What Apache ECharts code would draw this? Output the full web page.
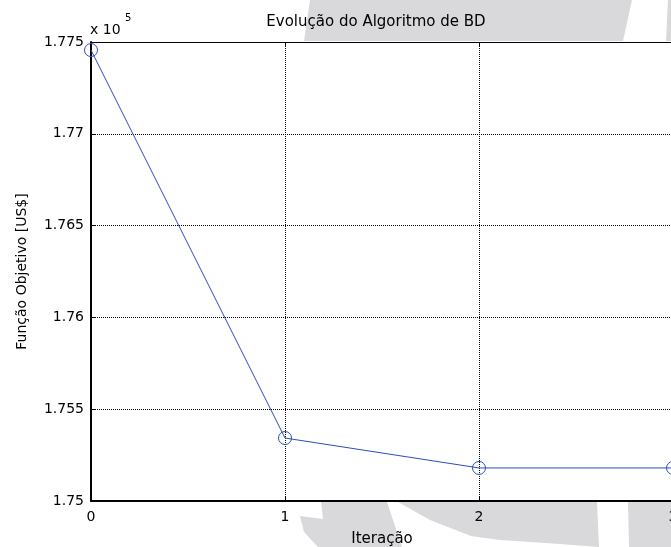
<!DOCTYPE html>
<html>
<head>
<meta charset="utf-8">
<script src="https://cdn.jsdelivr.net/npm/echarts@6/dist/echarts.min.js"></script>
<style>
  html, body { margin: 0; padding: 0; background: #ffffff; }
  #chart { width: 671px; height: 547px; }
</style>
</head>
<body>
<div id="chart"></div>
<script>
// Benders decomposition: objective function per iteration (US$)
const iterations = [0, 1, 2, 3];
const objective = [177456, 175343, 175180, 175180];

// Axis ranges and tick steps (raw US$ units, labelled in units of 10^5)
const xRange = [0, 3];
const xStep = 1;
const yRange = [175000, 177500];
const yStep = 500;
const yExponent = 5;

const titleText = 'Evolução do Algoritmo de BD';
const xName = 'Iteração';
const yName = 'Função Objetivo [US$]';

const font = 'DejaVu Sans';
const lineBlue = '#2d4db7';
const shade = '#d9d9db';

const chart = echarts.init(document.getElementById('chart'), null, { renderer: 'canvas' });

const scaleFactor = Math.pow(10, yExponent);
const points = iterations.map((it, i) => [it, objective[i]]);

const dottedGrid = { show: true, lineStyle: { color: '#000', width: 1, type: [1, 1] } };

chart.setOption({
  animation: false,
  backgroundColor: '#ffffff',
  grid: { left: 91, top: 42, width: 582, height: 459, containLabel: false, outerBoundsMode: 'none' },
  graphic: {
    elements: [
      // light watermark shapes behind the figure
      { type: 'polygon', z: -5, silent: true, shape: { points: [[310, 0], [632, 0], [623, 41], [304, 41]] }, style: { fill: shade } },
      { type: 'polygon', z: -5, silent: true, shape: { points: [[668, 0], [671, 0], [671, 41], [666, 41]] }, style: { fill: shade } },
      { type: 'polygon', z: -5, silent: true, shape: { points: [[321, 502], [387, 502], [402, 547], [318, 547], [304, 532], [300, 516], [323, 519]] }, style: { fill: shade } },
      { type: 'polygon', z: -5, silent: true, shape: { points: [[398, 502], [597, 502], [599, 547], [560, 544], [500, 540], [471, 536], [430, 520]] }, style: { fill: shade } },
      { type: 'polygon', z: -5, silent: true, shape: { points: [[628, 502], [671, 502], [671, 547], [629, 547]] }, style: { fill: shade } },
      // title
      { type: 'text', x: 376, y: 22, style: { text: titleText, fill: '#000', font: '15px "' + font + '"', textAlign: 'center', textVerticalAlign: 'middle' } },
      // axis multiplier
      { type: 'text', x: 90, y: 30, style: { text: 'x 10', fill: '#000', font: '14px "' + font + '"', textAlign: 'left', textVerticalAlign: 'middle' } },
      { type: 'text', x: 125, y: 18, style: { text: String(yExponent), fill: '#000', font: '10px "' + font + '"', textAlign: 'left', textVerticalAlign: 'middle' } }
    ]
  },
  xAxis: [
    {
      type: 'value', min: xRange[0], max: xRange[1], interval: xStep,
      position: 'bottom',
      name: xName, nameLocation: 'middle', nameGap: 31,
      nameTextStyle: { color: '#000', fontFamily: font, fontSize: 15 },
      axisLine: { show: true, onZero: false, lineStyle: { color: '#000', width: 2 } },
      axisTick: { show: true, inside: true, length: 5, lineStyle: { color: '#000', width: 1 } },
      axisLabel: { color: '#000', fontFamily: font, fontSize: 14, margin: 9, showMaxLabel: true },
      splitLine: dottedGrid
    },
    {
      type: 'value', min: xRange[0], max: xRange[1], interval: xStep,
      position: 'top',
      axisLine: { show: true, onZero: false, lineStyle: { color: '#000', width: 1 } },
      axisTick: { show: true, inside: true, length: 5, lineStyle: { color: '#000', width: 1 } },
      axisLabel: { show: false },
      splitLine: { show: false }
    }
  ],
  yAxis: {
    type: 'value', min: yRange[0], max: yRange[1], interval: yStep,
    name: yName, nameLocation: 'middle', nameGap: 62, nameRotate: 90,
    nameTextStyle: { color: '#000', fontFamily: font, fontSize: 14 },
    axisLine: { show: true, onZero: false, lineStyle: { color: '#000', width: 2 } },
    axisTick: { show: true, inside: true, length: 5, lineStyle: { color: '#000', width: 1 } },
    axisLabel: {
      color: '#000', fontFamily: font, fontSize: 14, margin: 7,
      formatter: v => String(+(v / scaleFactor).toFixed(4))
    },
    splitLine: dottedGrid
  },
  series: [
    {
      type: 'line',
      data: points,
      xAxisIndex: 0,
      symbol: 'circle',
      symbolSize: 13,
      showAllSymbol: true,
      clip: false,
      lineStyle: { color: lineBlue, width: 1 },
      itemStyle: { color: 'rgba(0,0,0,0)', borderColor: lineBlue, borderWidth: 1 },
      emphasis: { disabled: true },
      z: 5
    }
  ]
});
</script>
</body>
</html>
